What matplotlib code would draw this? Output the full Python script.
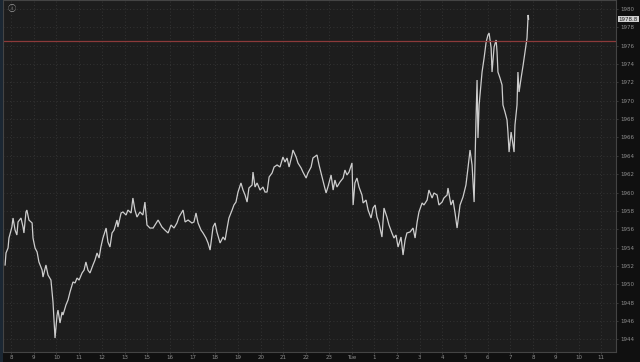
import matplotlib
matplotlib.use("Agg")
import matplotlib.pyplot as plt
from matplotlib.patches import Rectangle

# hour-slot index (0 = "8" label) and price values
hours = [-0.26, -0.22, -0.13, -0.09, 0.04, 0.09, 0.18, 0.26, 0.31, 0.44, 0.53, 0.57, 0.66, 0.70, 0.79,
         0.93, 0.97, 1.06, 1.15, 1.23, 1.37, 1.41, 1.54, 1.63, 1.76, 1.85, 1.89, 1.94, 2.03, 2.07,
         2.16, 2.25, 2.29, 2.42, 2.51, 2.60, 2.73, 2.82, 2.91, 3.00, 3.13, 3.22, 3.30, 3.39, 3.48,
         3.61, 3.70, 3.79, 3.88, 3.96, 4.05, 4.19, 4.27, 4.36, 4.45, 4.54, 4.67, 4.71, 4.85, 4.93,
         5.07, 5.15, 5.29, 5.37, 5.46, 5.55, 5.68, 5.81, 5.90, 5.99, 6.12, 6.26,
         6.48, 6.65, 6.78, 6.92, 7.05, 7.18, 7.31, 7.40, 7.58, 7.67, 7.80, 7.97, 8.06, 8.15, 8.24,
         8.37, 8.46, 8.59, 8.68, 8.77, 8.90, 8.99, 9.07, 9.21, 9.34, 9.43, 9.52, 9.60, 9.74, 9.82,
         9.91, 10.00, 10.13, 10.22, 10.31, 10.40, 10.48, 10.62, 10.66, 10.75, 10.84, 10.97, 11.10,
         11.19, 11.28, 11.37, 11.50, 11.59, 11.72, 11.85, 11.98, 12.07, 12.16, 12.25, 12.38, 12.42,
         12.56, 12.64, 12.78, 12.86, 13.00, 13.08, 13.22, 13.30, 13.48, 13.57, 13.70, 13.79, 13.88,
         13.96,
         14.10, 14.19, 14.27, 14.36, 14.49, 14.63, 14.71, 14.80, 14.89, 15.02, 15.07, 15.15, 15.24,
         15.33, 15.46, 15.51, 15.64, 15.73, 15.86, 15.95, 16.04, 16.12, 16.21, 16.34, 16.43, 16.56,
         16.65, 16.78, 16.87, 16.96, 17.05, 17.18, 17.27, 17.36, 17.44, 17.58, 17.71, 17.80, 17.89,
         17.97, 18.11, 18.19, 18.33, 18.41, 18.55, 18.63, 18.77, 18.85, 18.99, 19.07, 19.21, 19.25,
         19.38, 19.47, 19.56, 19.65,
         19.78, 19.91, 20.04, 20.13, 20.22, 20.31, 20.40, 20.48, 20.53, 20.57, 20.62, 20.70, 20.75,
         20.84, 20.93, 21.01, 21.06, 21.15, 21.19, 21.28, 21.37, 21.41, 21.45, 21.54, 21.63, 21.67,
         21.76, 21.85, 21.89, 21.94, 22.03, 22.07, 22.16, 22.20, 22.29, 22.33, 22.38, 22.47, 22.56,
         22.64, 22.73, 22.78, 22.80]

prices = [1952.10, 1953.41, 1953.95, 1955.04, 1956.24, 1957.22, 1955.91, 1955.37, 1956.79, 1957.22,
          1956.24, 1955.59, 1957.88, 1958.09, 1957.00, 1956.68, 1955.04, 1953.95, 1953.52, 1952.43,
          1951.55, 1950.79, 1952.10, 1951.01, 1950.46, 1948.07, 1946.32, 1944.14, 1946.65, 1947.19,
          1945.78, 1946.98, 1946.65, 1947.74, 1948.28, 1949.16, 1950.25, 1950.14, 1950.68, 1950.46,
          1951.23, 1951.55, 1952.43, 1951.55, 1951.23, 1952.10, 1952.64, 1953.41, 1952.86, 1954.06,
          1955.04, 1956.13, 1954.61, 1954.06, 1955.59, 1955.91, 1957.00, 1956.24, 1957.77, 1957.88,
          1957.55, 1958.09, 1957.77, 1959.40, 1958.09, 1957.33, 1957.88, 1957.55, 1958.96, 1956.46,
          1956.13, 1956.13,
          1957.00, 1956.24, 1955.91, 1955.59, 1956.46, 1956.13, 1956.68, 1957.33, 1958.09, 1956.79,
          1957.00, 1956.68, 1956.79, 1957.77, 1956.68, 1955.91, 1955.59, 1955.04, 1954.50, 1953.73,
          1956.24, 1956.68, 1955.70, 1954.50, 1955.15, 1954.82, 1956.13, 1957.22, 1958.09, 1958.64,
          1958.96, 1960.05, 1961.04, 1960.27, 1959.73, 1958.96, 1960.49, 1960.82, 1962.23, 1960.60,
          1961.04, 1960.27, 1960.60, 1960.05, 1960.05, 1961.69, 1962.13, 1962.78, 1963.00, 1962.78,
          1963.87, 1963.32, 1963.76, 1962.78, 1964.09, 1964.63, 1963.87, 1963.22, 1962.67, 1962.23,
          1961.58, 1962.13, 1962.78, 1963.76, 1964.09, 1963.00, 1961.69, 1960.82, 1959.95, 1960.60,
          1961.91, 1960.27, 1961.36, 1960.60, 1961.14, 1961.58, 1962.45, 1961.91, 1962.23, 1963.22,
          1958.64, 1961.04, 1961.58, 1960.60, 1959.73, 1958.86, 1959.18, 1958.09, 1957.22, 1958.31,
          1958.64, 1957.33, 1956.68, 1955.15, 1958.31, 1957.33, 1956.46, 1955.59, 1955.04, 1955.37,
          1954.06, 1955.15, 1953.19, 1954.82, 1955.59, 1955.70, 1956.13, 1955.04, 1956.79, 1957.88,
          1958.86, 1958.64, 1959.18, 1960.27, 1959.40, 1959.95, 1959.73, 1958.64, 1958.96, 1959.40,
          1959.73, 1960.49, 1958.64, 1959.18, 1957.77, 1956.13,
          1958.64, 1959.51, 1960.82, 1962.67, 1964.63, 1963.00, 1958.96, 1967.68, 1972.26, 1965.94,
          1969.54, 1971.72, 1973.13, 1974.66, 1976.40, 1977.17, 1977.38, 1975.75, 1973.13, 1975.86,
          1976.62, 1975.31, 1973.13, 1972.48, 1971.72, 1969.54, 1968.77, 1967.90, 1966.59, 1964.41,
          1966.59, 1965.94, 1964.41, 1967.36, 1969.54, 1973.13, 1970.95, 1972.48, 1973.90, 1975.31,
          1976.84, 1979.35, 1978.90]

x_tick_labels = ["8", "9", "10", "11", "12", "13", "15", "16", "17", "18", "19", "20", "21",
                 "22", "23", "Tue", "1", "2", "3", "4", "5", "6", "7", "8", "9", "10", "11"]
y_ticks = list(range(1944, 1981, 2))
ref_level = 1976.51
last_price = 1978.90
last_label = "1978.8"

fig = plt.figure(figsize=(6.4, 3.62), dpi=100, facecolor="#101010")
ax = fig.add_axes([3 / 640, 10 / 362, 613 / 640, 352 / 362])
ax.set_facecolor("#1d1d1d")

ax.plot(hours, prices, color="#cdcdcd", lw=0.9, solid_joinstyle="miter")
ax.axhline(ref_level, color="#8c3a3a", lw=0.9)

ax.set_xlim(-0.352, 26.65)
ax.set_ylim(1942.62, 1980.98)

ax.set_xticks(range(len(x_tick_labels)))
ax.set_xticklabels(x_tick_labels)
ax.set_yticks(y_ticks)
ax.yaxis.tick_right()
ax.tick_params(axis="both", colors="#4a4a4a", labelcolor="#8e8e8e", labelsize=4.0,
               length=1.5, width=0.5, pad=1.5)
ax.tick_params(axis="x", pad=0.8)
ax.grid(True, color="#3a3a3a", linestyle=(0, (1, 3)), linewidth=0.6)
for s in ax.spines.values():
    s.set_color("#444444")
    s.set_linewidth(0.8)

ax.text(1.004, last_price, last_label, transform=ax.get_yaxis_transform(), fontsize=4.0,
        color="#202020", va="center", ha="left",
        bbox=dict(boxstyle="square,pad=0.15", fc="#cfcfcf", ec="none"))

# left strip and info icon
fig.patches.append(Rectangle((0, 0), 3 / 640, 1, transform=fig.transFigure,
                             facecolor="#1b2733", edgecolor="none"))
ax.text(0.008, 0.988, "ⓘ", transform=ax.transAxes, fontsize=6, color="#9a9a9a",
        va="top", ha="left", family=["Noto Sans CJK JP", "DejaVu Sans"])

fig.savefig("out.png", dpi=100, facecolor=fig.get_facecolor())
